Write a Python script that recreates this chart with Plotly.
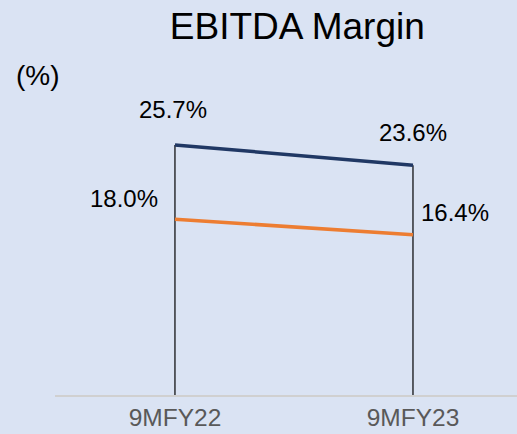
import plotly.graph_objects as go

categories = ["9MFY22", "9MFY23"]
series_a = [25.7, 23.6]   # dark blue line
series_b = [18.0, 16.4]   # orange line
labels_a = ["25.7%", "23.6%"]
labels_b = ["18.0%", "16.4%"]

BG = "#dae3f3"
FONT = "Liberation Sans, Arial, sans-serif"

fig = go.Figure()

# drop lines from highest value to axis
xs, ys = [], []
for c, a, b in zip(categories, series_a, series_b):
    xs += [c, c, None]
    ys += [-0.3, max(a, b), None]
fig.add_trace(go.Scatter(x=xs, y=ys, mode="lines",
                         line=dict(color="black", width=1.2),
                         hoverinfo="skip", showlegend=False))

fig.add_trace(go.Scatter(x=categories, y=series_a, mode="lines",
                         line=dict(color="#203864", width=3.5), showlegend=False))
fig.add_trace(go.Scatter(x=categories, y=series_b, mode="lines",
                         line=dict(color="#ed7d31", width=3.5), showlegend=False))

shifts_a = [(-2, 35), (0, 33)]
shifts_b = [(-51, 21), (42, 22)]
for c, v, t, (dx, dy) in zip(categories, series_a, labels_a, shifts_a):
    fig.add_annotation(x=c, y=v, text=t, showarrow=False, xshift=dx, yshift=dy,
                       font=dict(size=24, color="black", family=FONT))
for c, v, t, (dx, dy) in zip(categories, series_b, labels_b, shifts_b):
    fig.add_annotation(x=c, y=v, text=t, showarrow=False, xshift=dx, yshift=dy,
                       font=dict(size=24, color="black", family=FONT))

fig.add_annotation(xref="paper", yref="paper", x=-0.088, y=0.955, xanchor="left",
                   yanchor="middle", text="(%)", showarrow=False,
                   font=dict(size=28, color="black", family=FONT))

fig.update_layout(
    width=517, height=434,
    margin=dict(l=55, r=0, t=60, b=39),
    paper_bgcolor=BG, plot_bgcolor=BG,
    title=dict(text="EBITDA Margin", x=0.575, xanchor="center", y=0.94,
               yanchor="middle", font=dict(size=37, color="black", family=FONT)),
    xaxis=dict(type="category", range=[-0.504, 1.437], showgrid=False,
               showline=True, linecolor="#d0d0d0", linewidth=2,
               ticks="", tickfont=dict(size=24.5, color="#595959", family=FONT),
               zeroline=False, fixedrange=True),
    yaxis=dict(range=[-0.21, 34.5], visible=False, showgrid=False, zeroline=False),
    font=dict(family=FONT),
)

fig.write_html("out.html",
               config={"displayModeBar": False},
               post_script="document.body.style.margin='0';"
                           "document.body.style.background='%s';"
                           "document.body.style.overflow='hidden';" % BG)
